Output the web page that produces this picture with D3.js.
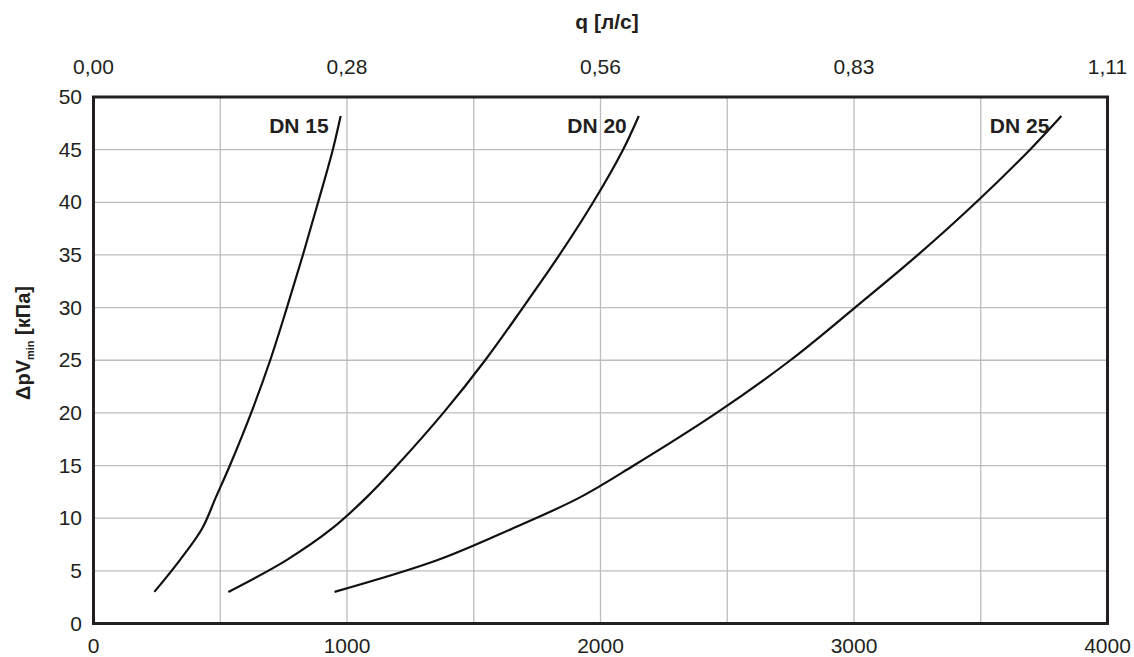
<!DOCTYPE html>
<html>
<head>
<meta charset="utf-8">
<script src="https://cdn.jsdelivr.net/npm/d3@7"></script>
<style>
  body { margin: 0; background: #fff; }
  text { font-family: Arial, "Liberation Sans", Helvetica, sans-serif; fill: #231f20; }
</style>
</head>
<body>
<div id="chart"></div>
<script>
// flow in l/h (bottom axis), pressure drop in kPa
var xTicks = [0, 1000, 2000, 3000, 4000];
var topTickLabels = ["0,00", "0,28", "0,56", "0,83", "1,11"];
var yTicks = [0, 5, 10, 15, 20, 25, 30, 35, 40, 45, 50];

var dn15 = [[240,3],[340,6],[428,9],[483,12],[538,15],[622,20],[697,25],[763,30],[826,35],[886,40],[944,45],[975,48.2]];
var dn20 = [[532,3],[760,6],[940,9],[1078,12],[1197,15],[1380,20],[1545,25],[1694,30],[1838,35],[1971,40],[2089,45],[2151,48.2]];
var dn25 = [[951,3],[1355,6],[1651,9],[1921,12],[2131,15],[2458,20],[2749,25],[3004,30],[3252,35],[3482,40],[3694,45],[3818,48.2]];
var seriesNames = ["DN 15", "DN 20", "DN 25"];

var width = 1134, height = 657;
var margin = {left: 93.5, right: 26.5, top: 97, bottom: 33.5};

var svg = d3.select("#chart").append("svg")
    .attr("width", width)
    .attr("height", height);

var x = d3.scaleLinear().domain([0, 4000]).range([margin.left, width - margin.right]);
var y = d3.scaleLinear().domain([0, 50]).range([height - margin.bottom, margin.top]);

// grid
svg.append("g").selectAll("line")
    .data(d3.range(500, 4000, 500))
    .enter().append("line")
    .attr("x1", function(d) { return x(d); })
    .attr("x2", function(d) { return x(d); })
    .attr("y1", y(0)).attr("y2", y(50))
    .attr("stroke", "#bdbdbd").attr("stroke-width", 1.3);

svg.append("g").selectAll("line")
    .data(yTicks.slice(1, -1))
    .enter().append("line")
    .attr("y1", function(d) { return y(d); })
    .attr("y2", function(d) { return y(d); })
    .attr("x1", x(0)).attr("x2", x(4000))
    .attr("stroke", "#bdbdbd").attr("stroke-width", 1.3);

// curves
var line = d3.line()
    .x(function(d) { return x(d[0]); })
    .y(function(d) { return y(d[1]); })
    .curve(d3.curveCatmullRom.alpha(0.5));

[dn15, dn20, dn25].forEach(function(s) {
  svg.append("path")
      .attr("d", line(s))
      .attr("fill", "none")
      .attr("stroke", "#111")
      .attr("stroke-width", 2.2);
});

// curve labels, right aligned just left of the curve ends
[dn15, dn20, dn25].forEach(function(s, i) {
  var last = s[s.length - 1];
  svg.append("text")
      .attr("x", x(last[0]) - 12)
      .attr("y", y(last[1]) + 17)
      .attr("text-anchor", "end")
      .attr("font-size", 21)
      .attr("font-weight", "bold")
      .text(seriesNames[i]);
});

// frame
svg.append("rect")
    .attr("x", x(0)).attr("y", y(50))
    .attr("width", x(4000) - x(0))
    .attr("height", y(0) - y(50))
    .attr("fill", "none")
    .attr("stroke", "#231f20")
    .attr("stroke-width", 3);

// bottom ticks
svg.append("g").selectAll("text")
    .data(xTicks)
    .enter().append("text")
    .attr("x", function(d) { return x(d); })
    .attr("y", 653)
    .attr("text-anchor", "middle")
    .attr("font-size", 21)
    .text(function(d) { return d; });

// top ticks (л/с)
svg.append("g").selectAll("text")
    .data(xTicks)
    .enter().append("text")
    .attr("x", function(d) { return x(d); })
    .attr("y", 74)
    .attr("text-anchor", "middle")
    .attr("font-size", 21)
    .text(function(d, i) { return topTickLabels[i]; });

// left ticks
svg.append("g").selectAll("text")
    .data(yTicks)
    .enter().append("text")
    .attr("x", 82)
    .attr("y", function(d) { return y(d) + 7; })
    .attr("text-anchor", "end")
    .attr("font-size", 21)
    .text(function(d) { return d; });

// axis titles
svg.append("text")
    .attr("x", 607).attr("y", 29)
    .attr("text-anchor", "middle")
    .attr("font-size", 21)
    .attr("font-weight", "bold")
    .text("q [л/с]");

var yl = svg.append("text")
    .attr("transform", "translate(30,343) rotate(-90)")
    .attr("text-anchor", "middle")
    .attr("font-size", 20)
    .attr("font-weight", "bold");
yl.append("tspan").text("ΔpV");
yl.append("tspan").attr("font-size", 11).attr("dy", 4).text("min");
yl.append("tspan").attr("dy", -4).text(" [кПа]");
</script>
</body>
</html>
